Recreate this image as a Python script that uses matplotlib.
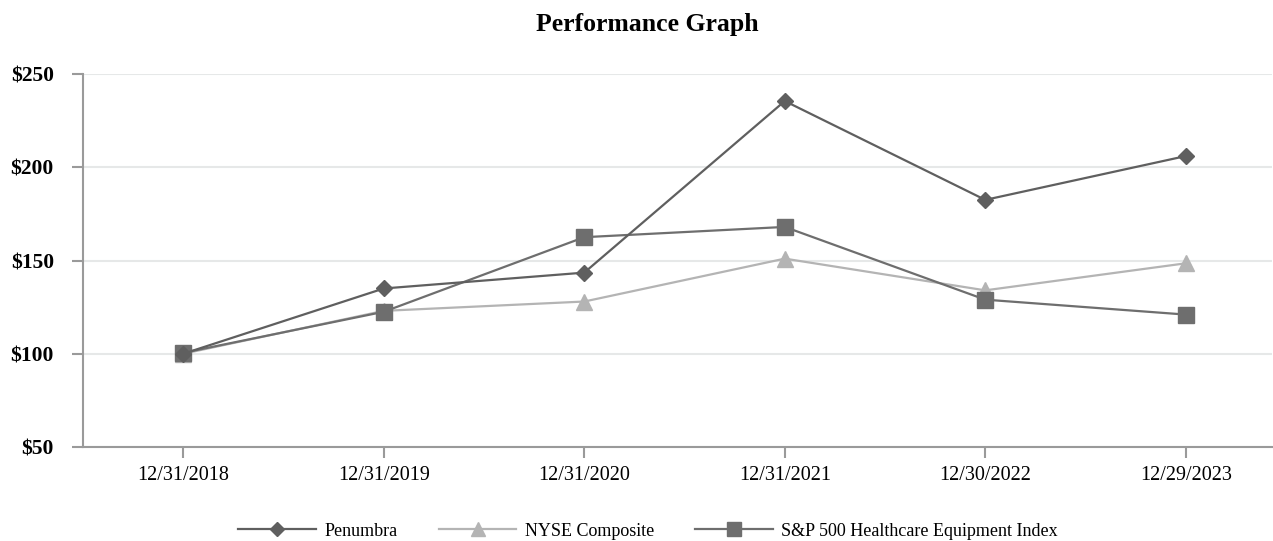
import matplotlib.pyplot as plt

dates = ["12/31/2018", "12/31/2019", "12/31/2020", "12/31/2021", "12/30/2022", "12/29/2023"]
penumbra = [100, 135, 143.5, 235.5, 182.5, 206]
nyse = [100, 123, 128, 151, 134, 148.5]
sp_hc_equip = [100.5, 122.5, 162.5, 168, 129, 121]
y_ticks = [50, 100, 150, 200, 250]

plt.rcParams["font.family"] = ["Liberation Serif", "DejaVu Serif"]

fig = plt.figure(figsize=(12.73, 5.41), dpi=100)
ax = fig.add_axes([83 / 1273, 1 - 447 / 541, (1272 - 83) / 1273, (447 - 74) / 541])

x = list(range(len(dates)))
ax.plot(x, penumbra, color="#5f5f5f", marker="D", markersize=8, linewidth=1.6,
        label="Penumbra", zorder=4)
ax.plot(x, nyse, color="#b4b4b4", marker="^", markersize=11, linewidth=1.6,
        label="NYSE Composite", zorder=3)
ax.plot(x, sp_hc_equip, color="#6e6e6e", marker="s", markersize=11, linewidth=1.6,
        label="S&P 500 Healthcare Equipment Index", zorder=3)

ax.set_xlim(-0.5, 5.43)
ax.set_ylim(50, 250)
ax.set_xticks(x)
ax.set_xticklabels(dates, fontsize=14.5)
ax.set_yticks(y_ticks)
ax.set_yticklabels([f"${v}" for v in y_ticks], fontsize=15.5, fontweight="bold")

ax.grid(axis="y", color="#e6e8e8", linewidth=1.5)
ax.set_axisbelow(True)
for s in ["top", "right"]:
    ax.spines[s].set_visible(False)
for s in ["left", "bottom"]:
    ax.spines[s].set_color("#9a9a9a")
    ax.spines[s].set_linewidth(1.5)
ax.tick_params(axis="y", length=8, width=1.5, color="#9a9a9a", pad=13)
ax.tick_params(axis="x", length=8, width=1.5, color="#9a9a9a", pad=6)

fig.text(647 / 1273, 1 - 24 / 541, "Performance Graph", ha="center", va="center",
         fontsize=18.5, fontweight="bold")
fig.legend(loc="center", bbox_to_anchor=(648 / 1273, 1 - 531 / 541), ncol=3, frameon=False,
           fontsize=13, handlelength=4.3, handletextpad=0.45, columnspacing=2.3,
           markerscale=0.9)

fig.savefig("out.png", dpi=100)
